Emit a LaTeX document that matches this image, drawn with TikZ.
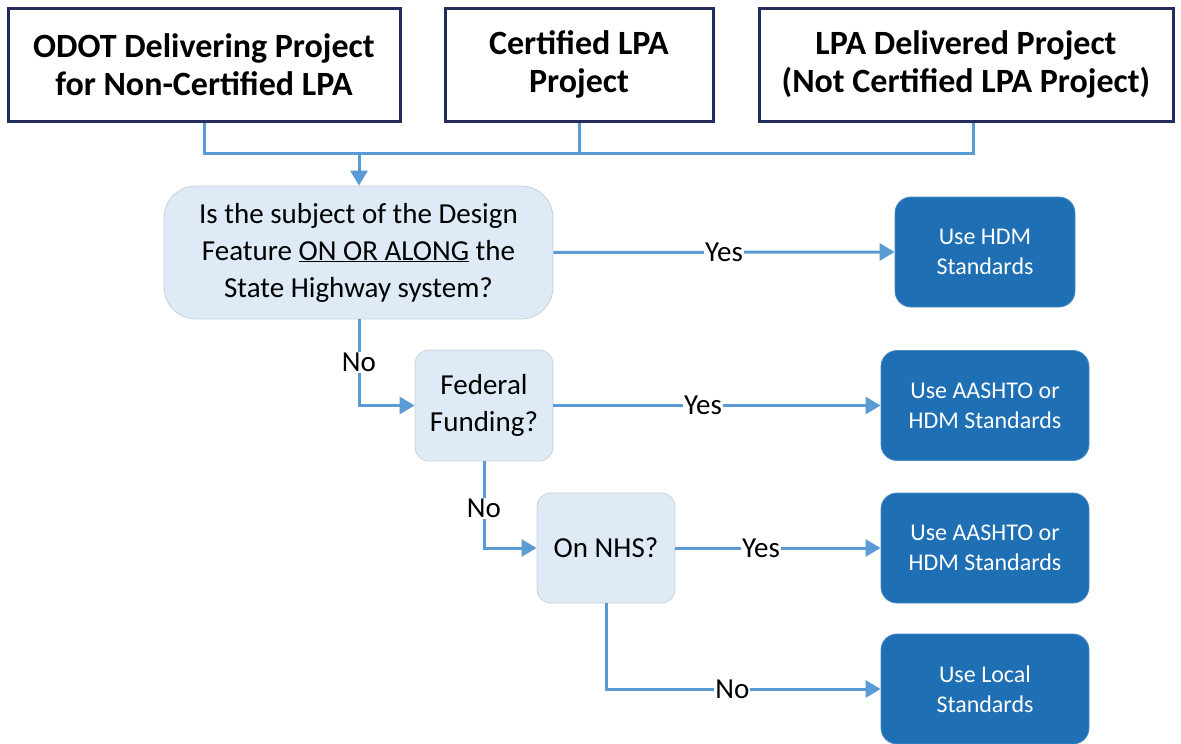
\documentclass[tikz,border=0pt]{standalone}
\usepackage{fontspec}
\setmainfont{Carlito}
\usetikzlibrary{arrows.meta}
\definecolor{navy}{RGB}{35,45,92}
\definecolor{lblue}{RGB}{222,235,247}
\definecolor{lborder}{RGB}{200,208,218}
\definecolor{dblue}{RGB}{30,111,180}
\definecolor{conn}{RGB}{91,155,213}
\tikzset{
  x=1pt, y=-1pt,
  topbox/.style={draw=navy, line width=3pt, fill=white, align=center, inner sep=0pt,
    font=\fontsize{34}{38}\selectfont\bfseries},
  qbox/.style={draw=lborder, line width=0.8pt, fill=lblue, align=center, inner sep=0pt,
    font=\fontsize{29}{37}\selectfont},
  abox/.style={draw=dblue!80!white, line width=0.8pt, fill=dblue, text=white, align=center, inner sep=0pt,
    rounded corners=16pt, minimum width=208pt, minimum height=110pt,
    font=\fontsize{24}{30}\selectfont},
  conline/.style={draw=conn, line width=3pt},
  conarrow/.style={conline, -{Triangle[length=15pt,width=17pt]}},
  lbl/.style={fill=white, inner sep=1pt, text=black, font=\fontsize{29}{37}\selectfont},
}
\begin{document}
\begin{tikzpicture}
\useasboundingbox (0,0) rectangle (1181,744);
% top boxes
\node[topbox, minimum width=392pt, minimum height=113pt] (b1) at (204,64.5) {ODOT Delivering Project\\for Non-Certified LPA};
\node[topbox, minimum width=268pt, minimum height=113pt] (b2) at (579,64.5) {Certified LPA\\Project};
\node[topbox, minimum width=414pt, minimum height=113pt] (b3) at (966,64.5) {LPA Delivered Project\\(Not Certified LPA Project)};
% question boxes
\node[qbox, rounded corners=32pt, minimum width=389pt, minimum height=133pt] (q1) at (358.5,252.5)
  {Is the subject of the Design\\Feature \underline{ON OR ALONG} the\\State Highway system?};
\node[qbox, rounded corners=14pt, minimum width=138pt, minimum height=111pt] (q2) at (484,405.5) {Federal\\Funding?};
\node[qbox, rounded corners=14pt, minimum width=138pt, minimum height=110pt] (q3) at (606,548) {On NHS?};
% answer boxes
\node[abox, minimum width=180pt] (a1) at (985,252) {Use HDM\\Standards};
\node[abox] (a2) at (985,405.5) {Use AASHTO or\\HDM Standards};
\node[abox] (a3) at (985,548) {Use AASHTO or\\HDM Standards};
\node[abox] (a4) at (985,689) {Use Local\\Standards};
% junction coordinates
\coordinate (j1) at (204,153);
\coordinate (j2) at (579,153);
\coordinate (j3) at (973,153);
\coordinate (jm) at (359,153);
% top connectors
\draw[conline] (b1.south -| j1) -- (j1) -- (j3) -- (b3.south -| j3);
\draw[conline] (b2.south) -- (j2);
\draw[conarrow] (jm) -- (q1.north -| jm);
% decisions
\draw[conarrow] (q1.east) -- node[lbl, pos=0.5] {Yes} (a1.west);
\draw[conarrow] (q1.south -| jm) |- node[lbl, pos=0.25] {No} (q2.west);
\draw[conarrow] (q2.east) -- node[lbl, pos=0.457] {Yes} (a2.west);
\draw[conarrow] (q2.south) |- node[lbl, pos=0.27] {No} (q3.west);
\draw[conarrow] (q3.east) -- node[lbl, pos=0.417] {Yes} (a3.west);
\draw[conarrow] (q3.south) |- node[lbl, pos=0.73] {No} (a4.west);
\end{tikzpicture}
\end{document}
